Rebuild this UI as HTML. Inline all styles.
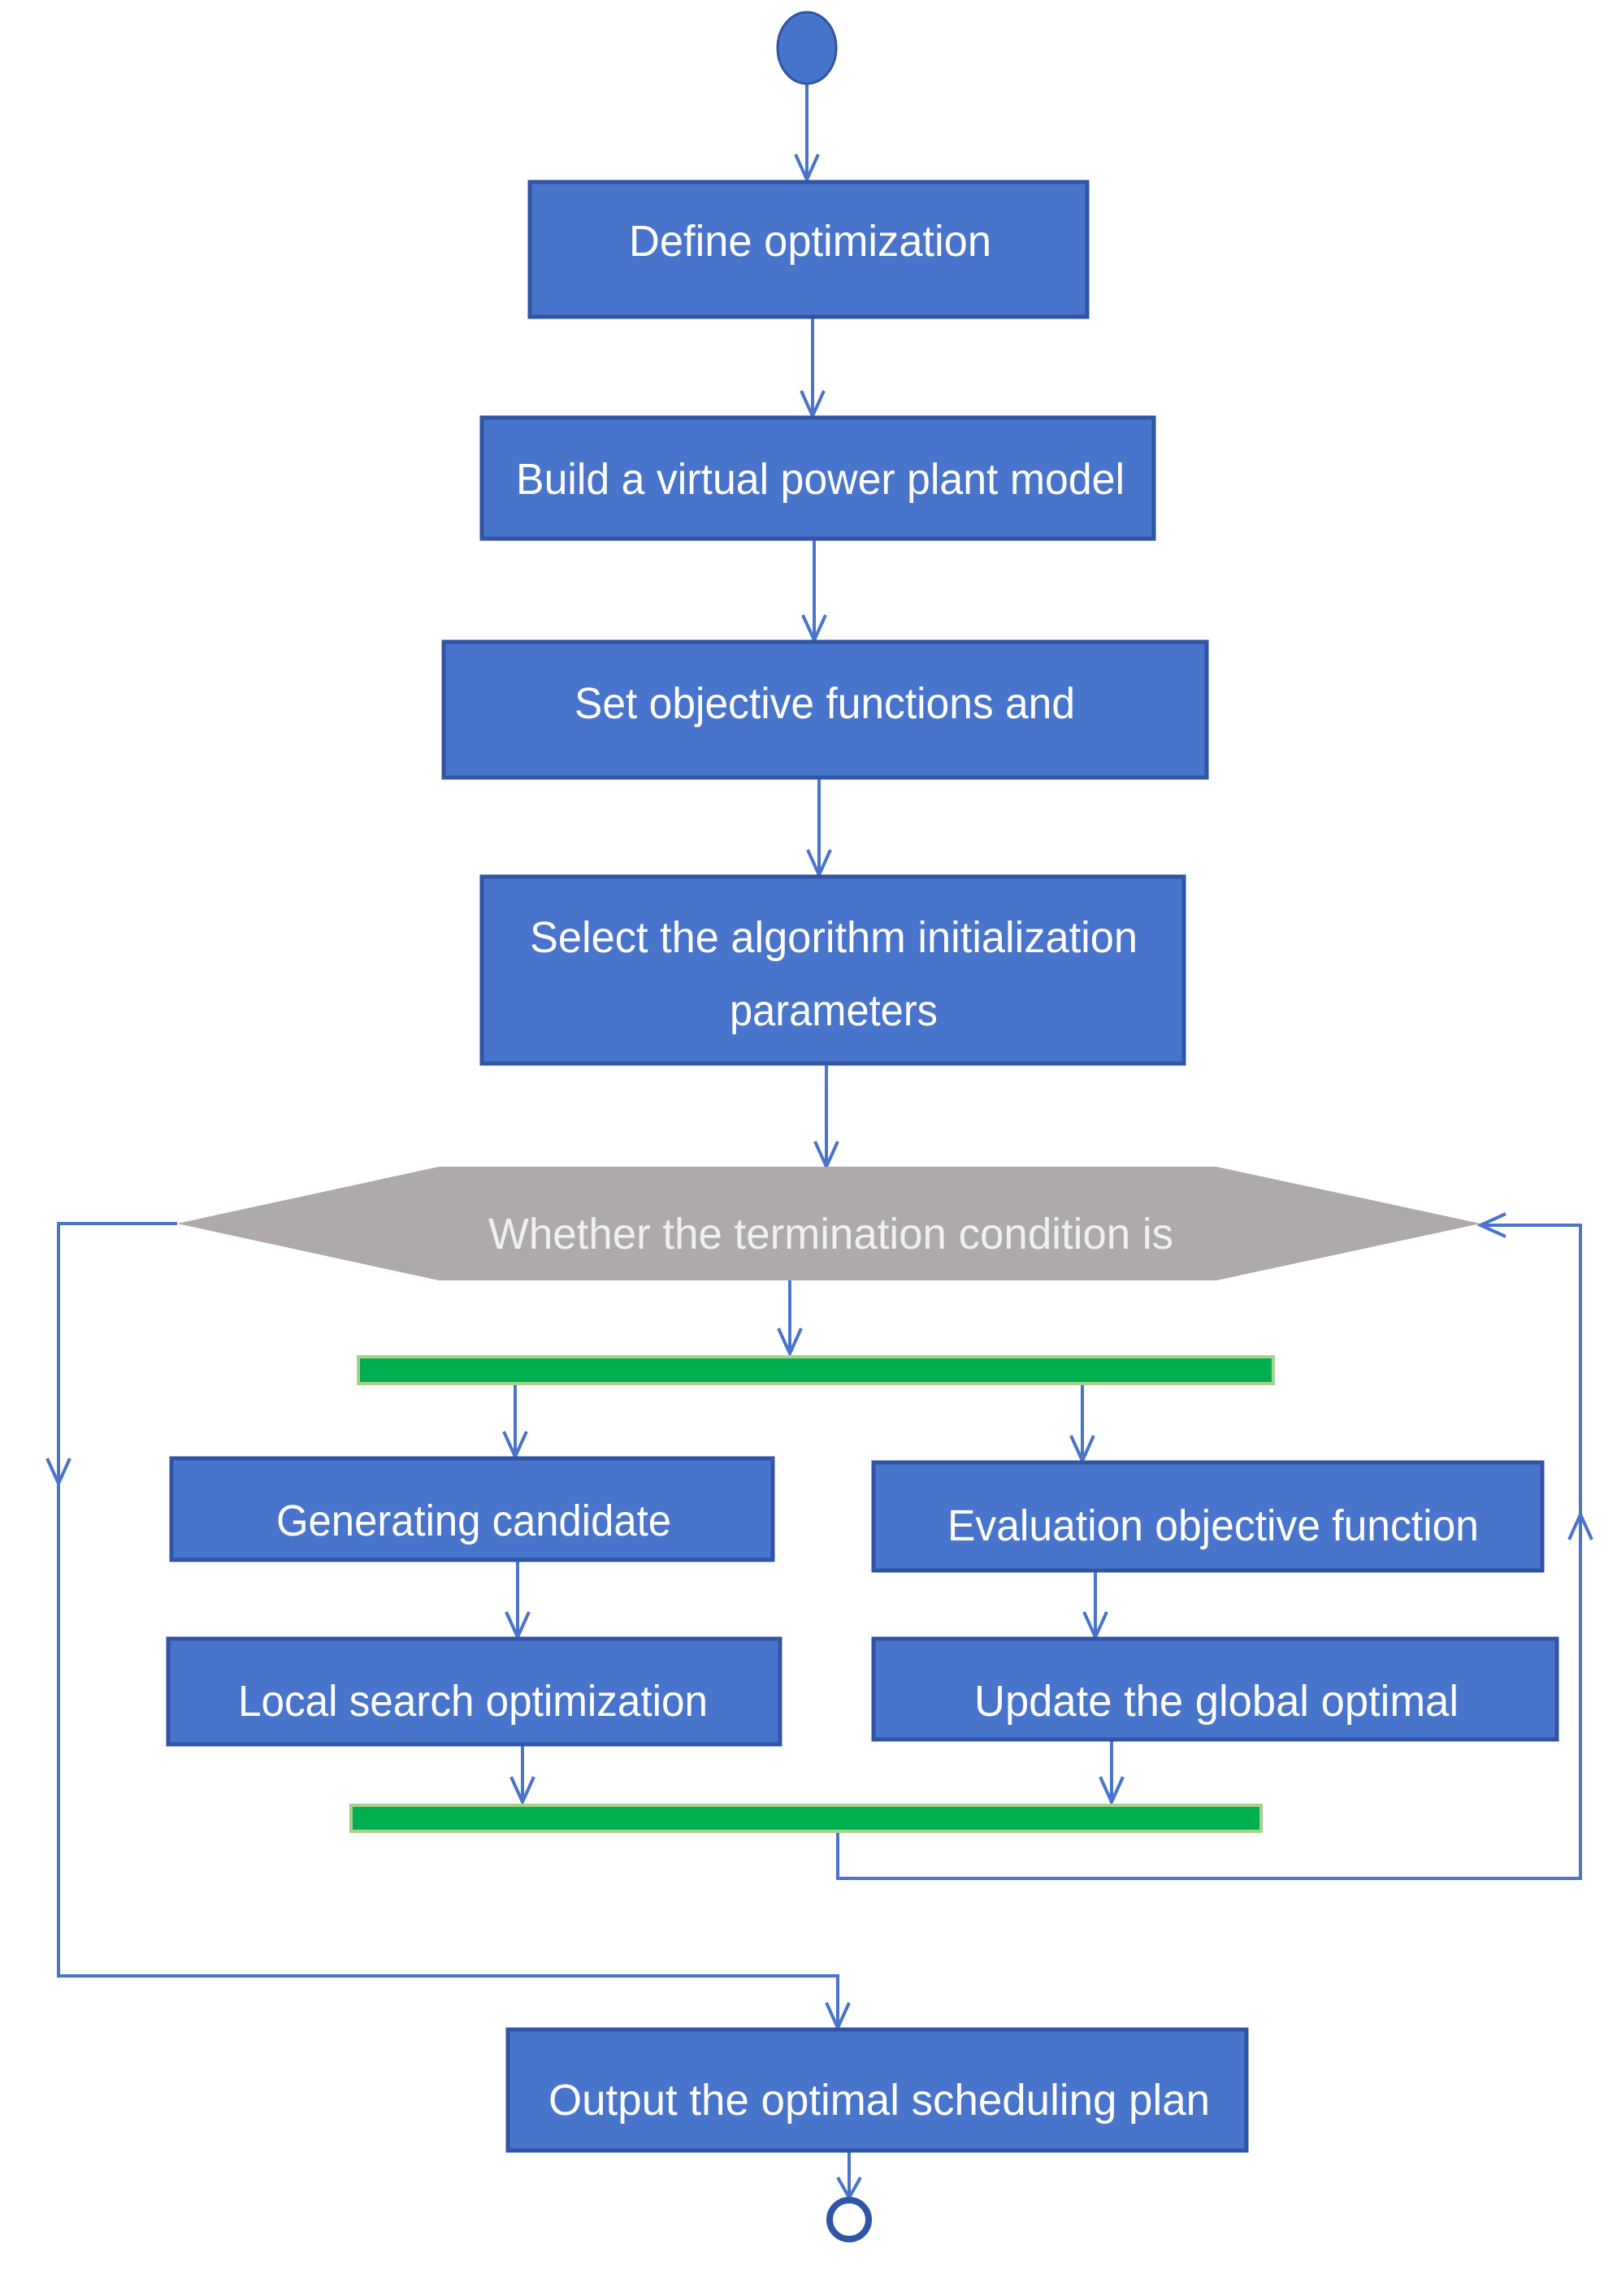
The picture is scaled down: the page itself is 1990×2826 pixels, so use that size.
<!DOCTYPE html>
<html><head><meta charset="utf-8"><style>html,body{margin:0;padding:0;background:#fff}svg{display:block}</style></head><body>
<svg width="1990" height="2826" viewBox="0 0 1990 2826" xmlns="http://www.w3.org/2000/svg">
<defs>
<marker id="a" viewBox="0 0 20 30" refX="10" refY="30" markerWidth="20" markerHeight="30" markerUnits="userSpaceOnUse" orient="auto-start-reverse">
</marker>
</defs>
<g fill="none" stroke="#4a74c9" stroke-width="4">
<!-- vertical connectors -->
<line x1="993" y1="100" x2="993" y2="221"/>
<line x1="1000" y1="390" x2="1000" y2="512"/>
<line x1="1002" y1="663" x2="1002" y2="788"/>
<line x1="1008" y1="957" x2="1008" y2="1077"/>
<line x1="1017" y1="1309" x2="1017" y2="1436"/>
<line x1="972" y1="1576" x2="972" y2="1666"/>
<line x1="634" y1="1703" x2="634" y2="1793"/>
<line x1="1332" y1="1703" x2="1332" y2="1798"/>
<line x1="637" y1="1920" x2="637" y2="2015"/>
<line x1="1348" y1="1933" x2="1348" y2="2015"/>
<line x1="643" y1="2147" x2="643" y2="2218"/>
<line x1="1368" y1="2141" x2="1368" y2="2218"/>
<line x1="1045" y1="2647" x2="1045" y2="2705"/>
<!-- left path -->
<polyline points="218,1506 72,1506 72,2432 1031,2432 1031,2496"/>
<!-- right loop -->
<polyline points="1031,2254 1031,2312 1945,2312 1945,1508 1822,1508"/>
<!-- arrowheads -->
<polyline points="979,190 993,221 1007,190"/>
<polyline points="986,481 1000,512 1014,481"/>
<polyline points="988,757 1002,788 1016,757"/>
<polyline points="994,1046 1008,1077 1022,1046"/>
<polyline points="1003,1405 1017,1436 1031,1405"/>
<polyline points="958,1635 972,1666 986,1635"/>
<polyline points="620,1762 634,1793 648,1762"/>
<polyline points="1318,1767 1332,1798 1346,1767"/>
<polyline points="623,1984 637,2015 651,1984"/>
<polyline points="1334,1984 1348,2015 1362,1984"/>
<polyline points="629,2187 643,2218 657,2187"/>
<polyline points="1354,2187 1368,2218 1382,2187"/>
<polyline points="1017,2465 1031,2496 1045,2465"/>
<polyline points="1031,2680 1045,2705 1059,2680"/>
<polyline points="58,1795 72,1826 86,1795"/>
<polyline points="1931,1895 1945,1864 1959,1895"/>
<polyline points="1853,1494 1822,1508 1853,1522"/>
</g>
<!-- start / end -->
<ellipse cx="993" cy="59" rx="36" ry="44" fill="#4874cb" stroke="#2f55a4" stroke-width="3"/>
<circle cx="1045" cy="2732" r="24" fill="none" stroke="#2f55a4" stroke-width="8"/>
<!-- boxes -->
<g fill="#4874cb" stroke="#2f55a4" stroke-width="5">
<rect x="652" y="224" width="686" height="166"/>
<rect x="593" y="514" width="827" height="149"/>
<rect x="546" y="790" width="939" height="167"/>
<rect x="593" y="1079" width="864" height="230"/>
<rect x="211" y="1795" width="740" height="125"/>
<rect x="1075" y="1800" width="823" height="133"/>
<rect x="207" y="2017" width="753" height="130"/>
<rect x="1075" y="2017" width="841" height="124"/>
<rect x="625" y="2498" width="909" height="149"/>
</g>
<polygon points="218,1506 540,1436 1497,1436 1822,1506 1497,1576 540,1576" fill="#aeaaaa"/>
<g fill="#00b050" stroke="#a9d18e" stroke-width="4">
<rect x="441" y="1670" width="1126" height="33"/>
<rect x="432" y="2222" width="1120" height="32"/>
</g>
<g font-family="Liberation Sans, sans-serif" font-size="54" fill="#ffffff" lengthAdjust="spacingAndGlyphs">
<text x="774" y="315" textLength="446" lengthAdjust="spacingAndGlyphs">Define optimization</text>
<text x="635" y="608" textLength="749" lengthAdjust="spacingAndGlyphs">Build a virtual power plant model</text>
<text x="707" y="884" textLength="616" lengthAdjust="spacingAndGlyphs">Set objective functions and</text>
<text x="652" y="1172" textLength="748" lengthAdjust="spacingAndGlyphs">Select the algorithm initialization</text>
<text x="898" y="1262" textLength="256" lengthAdjust="spacingAndGlyphs">parameters</text>
<text x="601" y="1537" textLength="843" lengthAdjust="spacingAndGlyphs" fill="#f0f0f0">Whether the termination condition is</text>
<text x="340" y="1890" textLength="486" lengthAdjust="spacingAndGlyphs">Generating candidate</text>
<text x="1166" y="1896" textLength="654" lengthAdjust="spacingAndGlyphs">Evaluation objective function</text>
<text x="293" y="2112" textLength="578" lengthAdjust="spacingAndGlyphs">Local search optimization</text>
<text x="1199" y="2112" textLength="596" lengthAdjust="spacingAndGlyphs">Update the global optimal</text>
<text x="675" y="2603" textLength="814" lengthAdjust="spacingAndGlyphs">Output the optimal scheduling plan</text>
</g>
</svg>
</body></html>
